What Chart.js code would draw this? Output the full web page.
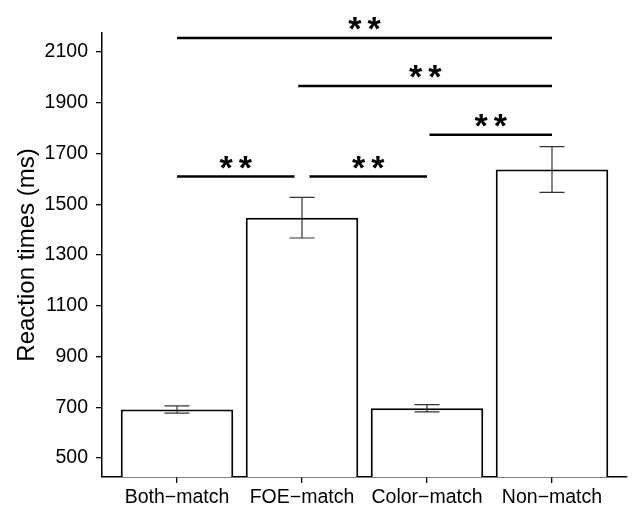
<!DOCTYPE html>
<html>
<head>
<meta charset="utf-8">
<script src="https://cdn.jsdelivr.net/npm/chart.js@4"></script>
<style>
  html, body { margin: 0; padding: 0; background: #fff; }
  #wrap { width: 644px; height: 505px; }
</style>
</head>
<body>
<div id="wrap"><canvas id="chart-rt"></canvas></div>
<script>
// ---------------------------------------------
// Data
// ---------------------------------------------

const categories = ["Both\u2212match", "FOE\u2212match", "Color\u2212match", "Non\u2212match"];
const meanRT = [691, 1447, 696, 1637];
const errRT = [14, 80, 14, 90];
const yTicks = [500, 700, 900, 1100, 1300, 1500, 1700, 1900, 2100];

// significance brackets: from / to (category position), height (ms), label
const sigFrom = [1, 1.97, 3.02, 1, 2.06];
const sigTo = [4, 4, 4, 1.94, 3.0];
const sigY = [2155, 1966, 1774, 1609, 1609];
const sigLabel = ["**", "**", "**", "**", "**"];

// ---------------------------------------------
// Plugins
// ---------------------------------------------

const errorBars = {
  id: "errorBars",
  afterDatasetsDraw(chart) {
    const { ctx, scales: { x, y } } = chart;
    ctx.save();
    ctx.strokeStyle = "#333";
    ctx.lineWidth = 1.2;
    meanRT.forEach((m, i) => {
      const px = x.getPixelForValue(i + 1);
      const top = y.getPixelForValue(m + errRT[i]);
      const bot = y.getPixelForValue(m - errRT[i]);
      ctx.beginPath();
      ctx.moveTo(px, top); ctx.lineTo(px, bot);
      ctx.moveTo(px - 12.5, top); ctx.lineTo(px + 12.5, top);
      ctx.moveTo(px - 12.5, bot); ctx.lineTo(px + 12.5, bot);
      ctx.stroke();
    });
    ctx.restore();
  }
};

const sigBars = {
  id: "sigBars",
  afterDraw(chart) {
    const { ctx, scales: { x, y } } = chart;
    ctx.save();
    ctx.strokeStyle = "#000";
    ctx.fillStyle = "#000";
    ctx.lineWidth = 2.5;
    ctx.font = "bold 34px 'Liberation Sans', Arial, sans-serif";
    ctx.textAlign = "center";
    ctx.textBaseline = "alphabetic";
    ctx.letterSpacing = "6px";
    sigY.forEach((v, i) => {
      const x0 = x.getPixelForValue(sigFrom[i]);
      const x1 = x.getPixelForValue(sigTo[i]);
      const py = y.getPixelForValue(v);
      ctx.beginPath();
      ctx.moveTo(x0, py); ctx.lineTo(x1, py);
      ctx.stroke();
      ctx.fillText(sigLabel[i], (x0 + x1) / 2 + 3, py + 2);
    });
    ctx.restore();
  }
};

// ---------------------------------------------
// Chart
// ---------------------------------------------

const font = { family: "'Liberation Sans', Arial, sans-serif", size: 19.5 };

new Chart(document.getElementById("chart-rt"), {
  type: "bar",
  data: {
    datasets: [{
      data: meanRT.map((v, i) => ({ x: i + 1, y: v })),
      backgroundColor: "#fff",
      borderColor: "#000",
      borderWidth: 2,
      borderSkipped: false,
      barPercentage: 0.9,
      categoryPercentage: 1
    }]
  },
  options: {
    responsive: true,
    maintainAspectRatio: false,
    animation: false,
    layout: { padding: { top: 33, right: 17, left: 0, bottom: 0 } },
    plugins: {
      legend: { display: false },
      tooltip: { enabled: false }
    },
    scales: {
      x: {
        type: "linear",
        min: 0.4,
        max: 4.6,
        offset: false,
        afterBuildTicks: s => { s.ticks = categories.map((c, i) => ({ value: i + 1 })); },
        afterFit: s => { s.height = 28; },
        ticks: {
          color: "#000",
          font,
          padding: 3,
          maxRotation: 0,
          autoSkip: false,
          callback: v => categories[v - 1]
        },
        grid: { offset: false, drawOnChartArea: false, tickLength: 6, color: "#000", lineWidth: 1.3 },
        border: { display: true, color: "#000", width: 1.5 }
      },
      y: {
        min: 425,
        max: 2175,
        afterBuildTicks: s => { s.ticks = yTicks.map(v => ({ value: v })); },
        afterFit: s => { s.width = 102; },
        ticks: { color: "#000", font, padding: 8, callback: v => String(v) },
        grid: { drawOnChartArea: false, tickLength: 6, color: "#000", lineWidth: 1.3 },
        border: { display: true, color: "#000", width: 1.5 },
        title: {
          display: true,
          text: "Reaction times (ms)",
          color: "#000",
          font: { family: font.family, size: 24 },
          padding: { top: 13, bottom: 0 }
        }
      }
    }
  },
  plugins: [errorBars, sigBars]
});
</script>
</body>
</html>
